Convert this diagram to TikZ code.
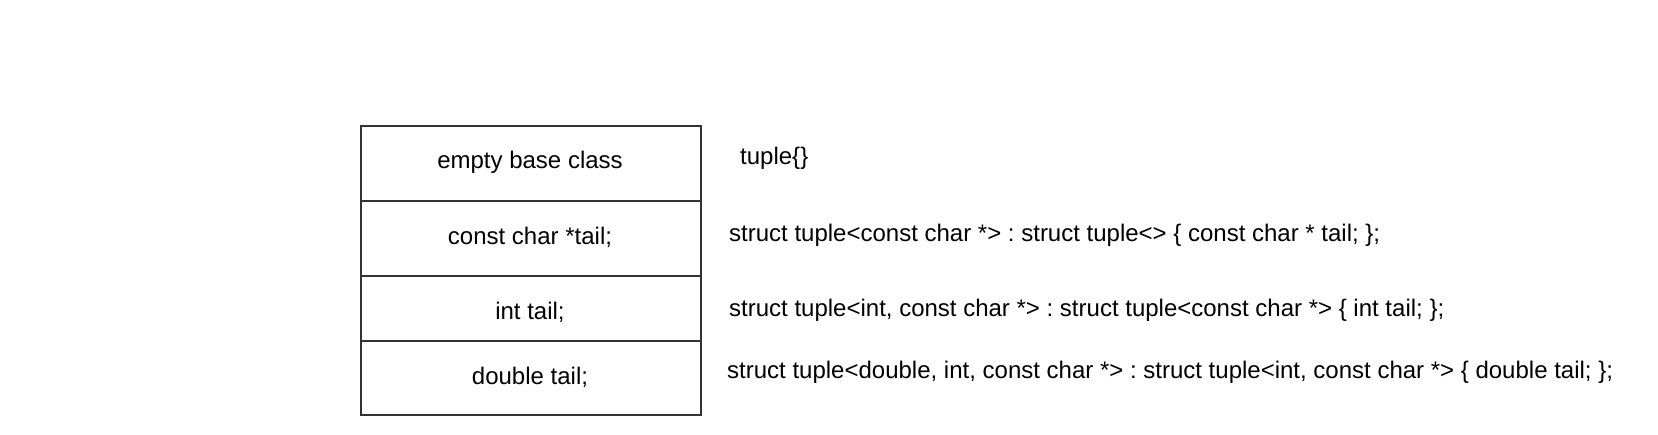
\documentclass[tikz,border=0pt]{standalone}
\usepackage{fontspec}
\setmainfont{Liberation Sans}
\definecolor{linegray}{HTML}{333333}
\frenchspacing
\begin{document}
\begin{tikzpicture}[x=1pt,y=-1pt,
  rowbox/.style={draw=linegray, line width=2pt, inner sep=0pt, minimum width=340pt, anchor=north west},
  lbl/.style={inner sep=0pt, font=\fontsize{24}{28}\selectfont\frenchspacing, text=black},
]
\useasboundingbox[fill=white] (0,0) rectangle (1658,435);
\node[rowbox, minimum height=75pt] (r1) at (360,125) {};
\node[rowbox, minimum height=75pt] (r2) at (360,200) {};
\node[rowbox, minimum height=65pt] (r3) at (360,275) {};
\node[rowbox, minimum height=74pt] (r4) at (360,340) {};
\node[lbl, anchor=base] (b1) at (530,169) {empty base class};
\node[lbl, anchor=base] (b2) at (530,245) {const char *tail;};
\node[lbl, anchor=base] (b3) at (530,320) {int tail;};
\node[lbl, anchor=base] (b4) at (530,385) {double tail;};
\node[lbl, anchor=base west] (d1) at (740,165) {tuple\{\}};
\node[lbl, anchor=base west] (d2) at (729,242) {struct tuple<const char *> : struct tuple<> \{ const char * tail; \};};
\node[lbl, anchor=base west] (d3) at (729,317) {struct tuple<int, const char *> : struct tuple<const char *> \{ int tail; \};};
\node[lbl, anchor=base west] (d4) at (727,379) {struct tuple<double, int, const char *> : struct tuple<int, const char *> \{ double tail; \};};
\end{tikzpicture}
\end{document}
